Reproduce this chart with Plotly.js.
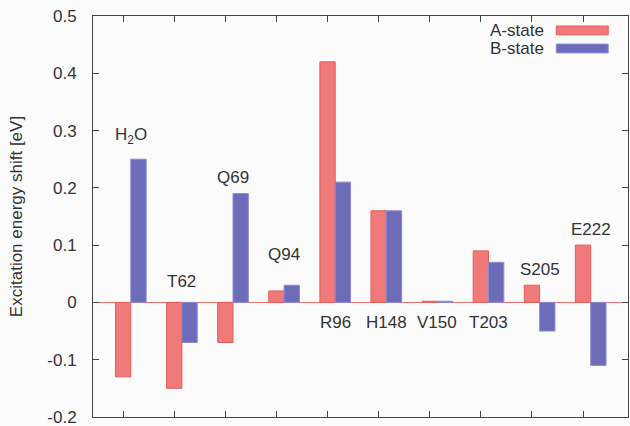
<!DOCTYPE html>
<html>
<head>
<meta charset="utf-8">
<script src="https://cdn.plot.ly/plotly-3.0.1.min.js"></script>
<style>html,body{margin:0;padding:0;background:#fbfbfb;}#chart{width:630px;height:426px;}</style>
</head>
<body>
<div id="chart"></div>
<script>
const categories = ["H<sub>2</sub>O", "T62", "Q69", "Q94", "R96", "H148", "V150", "T203", "S205", "E222"];
const aState = [-0.13, -0.15, -0.07, 0.02, 0.42, 0.16, 0.002, 0.09, 0.03, 0.10];
const bState = [0.25, -0.07, 0.19, 0.03, 0.21, 0.16, 0.002, 0.07, -0.05, -0.11];
const labelY = [0.29, 0.037, 0.218, 0.083, -0.035, -0.035, -0.035, -0.035, 0.058, 0.127];
const yTicks = [-0.2, -0.1, 0, 0.1, 0.2, 0.3, 0.4, 0.5];
const yTickText = ["-0.2", "-0.1", "0", "0.1", "0.2", "0.3", "0.4", "0.5"];

const xIdx = categories.map((_, i) => i);
const font = "Liberation Sans, Arial, Helvetica, sans-serif";

const traces = [
  {type: "bar", name: "A-state", x: xIdx, y: aState, width: 0.3, offset: -0.15,
   marker: {color: "#f07a7a", line: {color: "#e85a5a", width: 1}}, showlegend: false},
  {type: "bar", name: "B-state", x: xIdx, y: bState, width: 0.3, offset: 0.15,
   marker: {color: "#6c6cb8", line: {color: "#8a8ad6", width: 1}}, showlegend: false}
];

const annotations = categories.map((c, i) => ({
  x: i + 0.15, y: labelY[i], xref: "x", yref: "y", text: c, showarrow: false,
  font: {family: font, size: 17, color: "#333"}, yanchor: "middle"
}));
annotations.push(
  {xref: "paper", yref: "paper", x: 0.847, y: 0.965, text: "A-state", showarrow: false, xanchor: "right", yanchor: "middle",
   font: {family: font, size: 17, color: "#333"}},
  {xref: "paper", yref: "paper", x: 0.847, y: 0.920, text: "B-state", showarrow: false, xanchor: "right", yanchor: "middle",
   font: {family: font, size: 17, color: "#333"}}
);
const shapes = [
  {type: "rect", xref: "paper", yref: "paper", x0: 0.866, x1: 0.963, y0: 0.953, y1: 0.975,
   fillcolor: "#f07a7a", line: {color: "#e85a5a", width: 1}},
  {type: "rect", xref: "paper", yref: "paper", x0: 0.866, x1: 0.963, y0: 0.908, y1: 0.930,
   fillcolor: "#6c6cb8", line: {color: "#8a8ad6", width: 1}}
];

const layout = {
  width: 630, height: 426,
  paper_bgcolor: "#fbfbfb", plot_bgcolor: "#fbfbfb",
  margin: {l: 93, r: 2, t: 16, b: 9},
  barmode: "overlay",
  showlegend: false,
  font: {family: font, color: "#333"},
  xaxis: {range: [-0.59, 9.88], tickvals: xIdx, showticklabels: false, ticks: "inside", ticklen: 6,
          tickcolor: "#444", showline: true, linecolor: "#444", linewidth: 1, mirror: "ticks",
          showgrid: false, zeroline: false},
  yaxis: {range: [-0.2001, 0.5001], tickvals: yTicks, ticktext: yTickText, ticks: "inside", ticklen: 6,
          tickcolor: "#444", showline: true, linecolor: "#444", linewidth: 1, mirror: "ticks",
          showgrid: false, zeroline: true, zerolinecolor: "#f07070", zerolinewidth: 1,
          ticklabelstandoff: 12, ticklabeloverflow: "allow",
          tickfont: {family: font, size: 17, color: "#333"},
          title: {text: "Excitation energy shift [eV]", font: {family: font, size: 17, color: "#333"}, standoff: 20}},
  annotations: annotations,
  shapes: shapes
};
Plotly.newPlot("chart", traces, layout, {displayModeBar: false, staticPlot: true});
</script>
</body>
</html>
